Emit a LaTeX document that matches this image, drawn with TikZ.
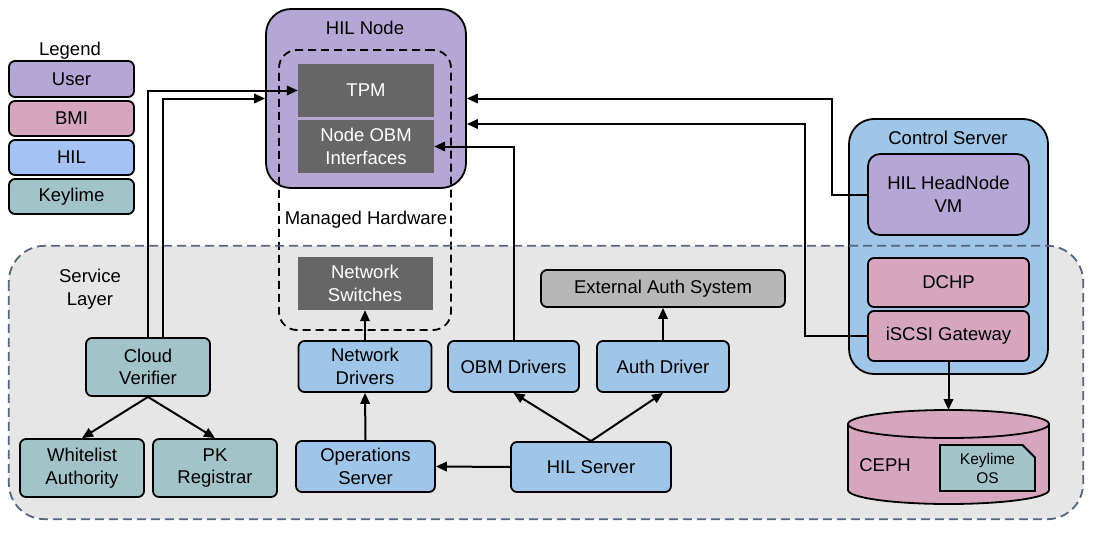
\documentclass[tikz,border=0pt]{standalone}
\usepackage{fontspec}
\setmainfont{Liberation Sans}
\usepackage{tikz}
\usetikzlibrary{arrows.meta,shapes,positioning}

\definecolor{userpurple}{HTML}{B4A7D6}
\definecolor{bmipink}{HTML}{D5A6BD}
\definecolor{hilblue}{HTML}{9FC5E8}
\definecolor{legblue}{HTML}{A4C2F4}
\definecolor{keyteal}{HTML}{A2C4C9}
\definecolor{hwgray}{HTML}{666666}
\definecolor{extgray}{HTML}{B7B7B7}
\definecolor{layergray}{HTML}{E6E6E6}
\definecolor{layerline}{HTML}{56657F}

\begin{document}
\begin{tikzpicture}[x=1pt, y=-1pt,
  every node/.style={font=\fontsize{18.5}{22.5}\selectfont, align=center, inner sep=0pt},
  box/.style={draw, line width=1.8pt, rounded corners=6pt},
  hwbox/.style={fill=hwgray, text=white},
  arr/.style={line width=2pt, -{Triangle[length=11pt,width=9.5pt]}}]
\useasboundingbox (0,0) rectangle (1094,554);

\node [fill=layergray, rounded corners=36pt, minimum width=1074, minimum height=273] (servicelayer) at (546,382.5) {};
\node (servicelabel) at (90,289) {Service\\Layer};

\node (legend) at (70,51) {Legend};
\node [box, fill=userpurple, minimum width=125, minimum height=36] (leguser) at (71.5,79) {User};
\node [box, fill=bmipink, minimum width=125, minimum height=35] (legbmi) at (71.5,118.5) {BMI};
\node [box, fill=legblue, minimum width=125, minimum height=35] (leghil) at (71.5,157.5) {HIL};
\node [box, fill=keyteal, minimum width=125, minimum height=35] (legkey) at (71.5,196.5) {Keylime};

\node [box, fill=userpurple, rounded corners=25pt, minimum width=200, minimum height=179] (hilnode) at (366,98.5) {};
\node (hilnodetitle) at (365,28) {HIL Node};
\node [draw, line width=1.8pt, dash pattern=on 8pt off 5pt, rounded corners=18pt, minimum width=172, minimum height=280] (managed) at (365,190) {};
\node (managedlabel) at (366,220) {Managed Hardware};
\node [hwbox, minimum width=136, minimum height=53] (tpm) at (366,90.5) {TPM};
\node [hwbox, minimum width=136, minimum height=53] (nodeobm) at (366,146.5) {Node OBM\\Interfaces};
\node [hwbox, minimum width=135, minimum height=53] (switches) at (365,283.5) {Network\\Switches};

\node [box, fill=keyteal, minimum width=124, minimum height=58] (cloudverifier) at (148,367) {Cloud\\Verifier};
\node [box, fill=keyteal, minimum width=124, minimum height=58] (whitelist) at (82,468) {Whitelist\\Authority};
\node [box, fill=keyteal, minimum width=124, minimum height=58] (pkreg) at (215,468) {PK\\Registrar};

\node [box, fill=hilblue, minimum width=133, minimum height=51] (netdrivers) at (365,366.5) {Network\\Drivers};
\node [box, fill=hilblue, minimum width=139, minimum height=51] (opserver) at (365.5,466.5) {Operations\\Server};
\node [box, fill=hilblue, minimum width=131, minimum height=51] (obmdrivers) at (513.5,366.5) {OBM Drivers};
\node [box, fill=hilblue, minimum width=132, minimum height=51] (authdriver) at (663,366.5) {Auth Driver};
\node [box, fill=extgray, minimum width=244, minimum height=37] (extauth) at (663,288.5) {External Auth System};
\node [box, fill=hilblue, minimum width=160, minimum height=50] (hilserver) at (591,467) {HIL Server};

\node [box, fill=hilblue, rounded corners=25pt, minimum width=199, minimum height=255] (controlserver) at (948.5,246.5) {};
\node (controltitle) at (948,138) {Control Server};
\node [box, fill=userpurple, rounded corners=12pt, minimum width=161, minimum height=81] (headnode) at (948.5,194.5) {HIL HeadNode\\VM};
\node [box, fill=bmipink, minimum width=161, minimum height=49] (dchp) at (948.5,282.5) {DCHP};
\node [box, fill=bmipink, minimum width=161, minimum height=50] (iscsi) at (948.5,336) {iSCSI Gateway};

\draw [layerline, line width=1.8pt, dash pattern=on 9pt off 5pt, rounded corners=36pt] (servicelayer.north west) rectangle (servicelayer.south east);

\path [fill=bmipink, draw, line width=1.8pt] (848,424) -- (848,490) arc [start angle=180, end angle=360, x radius=100.5pt, y radius=14pt] -- (1049,424) arc [start angle=0, end angle=180, x radius=100.5pt, y radius=14pt] -- cycle;
\draw [line width=1.8pt] (848,424) arc [start angle=180, end angle=360, x radius=100.5pt, y radius=14pt];
\coordinate (cephtop) at (948.5,410);
\node (ceph) at (885,465) {CEPH};
\node [chamfered rectangle, chamfered rectangle corners=north east, chamfered rectangle xsep=9pt, draw, fill=keyteal, line width=1.8pt, minimum width=95, minimum height=46, font=\fontsize{15.5}{19}\selectfont] (keylimeos) at (987.5,468) {Keylime\\OS};

\draw [arr] (cloudverifier.north) |- (tpm.west);
\draw [arr] ([xshift=15pt]cloudverifier.north) |- (hilnode.west);
\draw [arr] (cloudverifier.south) -- (whitelist.north);
\draw [arr] (cloudverifier.south) -- (pkreg.north);
\draw [arr] (headnode.west) -- ++(-35pt,0) |- (hilnode.east);
\draw [arr] (iscsi.west) -- ++(-62pt,0) |- ([yshift=-25.5pt]hilnode.east);
\draw [arr] (obmdrivers.north) |- (nodeobm.east);
\draw [arr] (netdrivers.north) -- (switches.south);
\draw [arr] (opserver.north) -- (netdrivers.south);
\draw [arr] (hilserver.west) -- (opserver.east);
\draw [arr] (hilserver.north) -- (obmdrivers.south);
\draw [arr] (hilserver.north) -- (authdriver.south);
\draw [arr] (authdriver.north) -- (extauth.south);
\draw [arr] (iscsi.south) -- (cephtop);
\end{tikzpicture}
\end{document}
